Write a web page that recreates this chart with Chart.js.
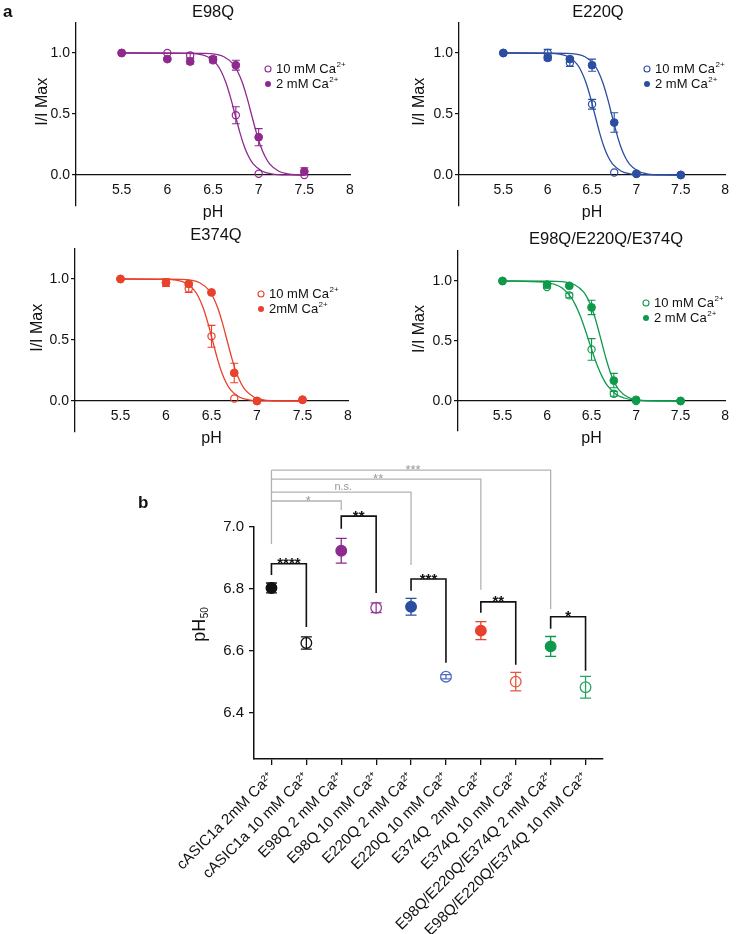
<!DOCTYPE html>
<html><head><meta charset="utf-8">
<script src="https://cdn.jsdelivr.net/npm/chart.js@4.4.1/dist/chart.umd.min.js"></script>
<style>
html,body{margin:0;padding:0;background:#fff;}
#wrap{position:relative;width:736px;height:934px;overflow:hidden;font-family:"Liberation Sans",Arial,sans-serif;color:#111;}
canvas{position:absolute;}
.t{position:absolute;font-size:16.5px;white-space:nowrap;transform:translate(-50%,-50%);}
.lab{position:absolute;font-weight:bold;font-size:17px;}
</style></head><body>
<div id="wrap">
  <canvas id="c1" width="368" height="226" style="left:0;top:0"></canvas>
  <canvas id="c2" width="368" height="226" style="left:368px;top:0"></canvas>
  <canvas id="c3" width="368" height="230" style="left:0;top:226px"></canvas>
  <canvas id="c4" width="368" height="230" style="left:368px;top:226px"></canvas>
  <canvas id="cb" width="736" height="494" style="left:0;top:440px"></canvas>
  <div class="lab" style="left:3px;top:2px">a</div>
  <div class="lab" style="left:138px;top:493px">b</div>
  <div class="t" style="left:213px;top:11px">E98Q</div>
  <div class="t" style="left:598px;top:11px">E220Q</div>
  <div class="t" style="left:216px;top:234px">E374Q</div>
  <div class="t" style="left:606px;top:238px">E98Q/E220Q/E374Q</div>
</div>
<script>
// ---------------- Panel a data ----------------
const phLevels = [5.5, 6, 6.25, 6.5, 6.75, 7, 7.5];
const xTickVals = [5.5, 6, 6.5, 7, 7.5, 8];
const yTickVals = [0, 0.5, 1.0];

const e98q10 = [1.00, 1.00, 0.98, 0.94, 0.49, 0.01, 0.00];
const e98q10Err = [0, 0, 0.02, 0.02, 0.07, 0, 0];
const e98q2 = [1.00, 0.95, 0.93, 0.95, 0.90, 0.31, 0.03];
const e98q2Err = [0, 0.01, 0.02, 0.02, 0.04, 0.07, 0.03];
const e98qFit10X = [5.5, 6.24, 6.34, 6.44, 6.54, 6.59, 6.64, 6.69, 6.74, 6.79, 6.84, 6.89, 6.94, 7.04, 7.14, 7.34, 7.5];
const e98qFit10Y = [1, 0.997, 0.99, 0.969, 0.909, 0.849, 0.76, 0.64, 0.5, 0.36, 0.24, 0.151, 0.091, 0.031, 0.01, 0.001, 0];
const e98qFit2X = [5.5, 6.42, 6.52, 6.62, 6.72, 6.77, 6.82, 6.87, 6.92, 6.97, 7.02, 7.07, 7.12, 7.22, 7.32, 7.42, 7.5];
const e98qFit2Y = [1, 0.997, 0.99, 0.969, 0.909, 0.849, 0.76, 0.64, 0.5, 0.36, 0.24, 0.151, 0.091, 0.031, 0.01, 0.003, 0.001];

const e220q10 = [1.00, 1.00, 0.92, 0.58, 0.02, 0.01, 0.00];
const e220q10Err = [0, 0.03, 0.03, 0.04, 0, 0, 0];
const e220q2 = [1.00, 0.96, 0.95, 0.90, 0.43, 0.01, 0.00];
const e220q2Err = [0, 0.02, 0.01, 0.05, 0.08, 0, 0];
const e220qFit10X = [5.5, 6.03, 6.13, 6.23, 6.33, 6.38, 6.43, 6.48, 6.53, 6.58, 6.63, 6.68, 6.73, 6.83, 6.93, 7.13, 7.5];
const e220qFit10Y = [1, 0.997, 0.99, 0.969, 0.909, 0.849, 0.76, 0.64, 0.5, 0.36, 0.24, 0.151, 0.091, 0.031, 0.01, 0.001, 0];
const e220qFit2X = [5.5, 6.22, 6.32, 6.42, 6.52, 6.57, 6.62, 6.67, 6.72, 6.77, 6.82, 6.87, 6.92, 7.02, 7.12, 7.32, 7.5];
const e220qFit2Y = [1, 0.997, 0.99, 0.969, 0.909, 0.849, 0.76, 0.64, 0.5, 0.36, 0.24, 0.151, 0.091, 0.031, 0.01, 0.001, 0];

const e374q10 = [1.00, 0.97, 0.92, 0.53, 0.02, 0.00, 0.01];
const e374q10Err = [0, 0.03, 0.03, 0.09, 0, 0, 0];
const e374q2 = [1.00, 0.97, 0.96, 0.89, 0.23, 0.00, 0.01];
const e374q2Err = [0, 0.03, 0.01, 0.01, 0.08, 0, 0];
const e374qFit10X = [5.5, 6.01, 6.11, 6.21, 6.31, 6.36, 6.41, 6.46, 6.51, 6.56, 6.61, 6.66, 6.71, 6.81, 6.91, 7.11, 7.5];
const e374qFit10Y = [1, 0.997, 0.99, 0.969, 0.909, 0.849, 0.76, 0.64, 0.5, 0.36, 0.24, 0.151, 0.091, 0.031, 0.01, 0.001, 0];
const e374qFit2X = [5.5, 6.17, 6.27, 6.37, 6.47, 6.52, 6.57, 6.62, 6.67, 6.72, 6.77, 6.82, 6.87, 6.97, 7.07, 7.27, 7.5];
const e374qFit2Y = [1, 0.997, 0.99, 0.969, 0.909, 0.849, 0.76, 0.64, 0.5, 0.36, 0.24, 0.151, 0.091, 0.031, 0.01, 0.001, 0];

const tripleQ10 = [1.00, 0.95, 0.88, 0.43, 0.06, 0.00, 0.00];
const tripleQ10Err = [0, 0.01, 0.02, 0.09, 0.02, 0, 0];
const tripleQ2 = [1.00, 0.97, 0.96, 0.78, 0.17, 0.01, 0.00];
const tripleQ2Err = [0, 0.01, 0.01, 0.06, 0.06, 0, 0];
const tripleFit10X = [5.5, 5.97, 6.07, 6.17, 6.27, 6.32, 6.37, 6.42, 6.47, 6.52, 6.57, 6.62, 6.67, 6.77, 6.87, 6.97, 7.5];
const tripleFit10Y = [1, 0.99, 0.975, 0.941, 0.863, 0.799, 0.715, 0.613, 0.5, 0.387, 0.285, 0.201, 0.137, 0.059, 0.025, 0.01, 0];
const tripleFit2X = [5.5, 6.11, 6.21, 6.31, 6.41, 6.46, 6.51, 6.56, 6.61, 6.66, 6.71, 6.76, 6.81, 6.91, 7.01, 7.21, 7.5];
const tripleFit2Y = [1, 0.997, 0.99, 0.969, 0.909, 0.849, 0.76, 0.64, 0.5, 0.36, 0.24, 0.151, 0.091, 0.031, 0.01, 0.001, 0];

// ---------------- Panel b data ----------------
const bLabels = ['cASIC1a 2mM Ca²⁺', 'cASIC1a 10 mM Ca²⁺', 'E98Q 2 mM Ca²⁺', 'E98Q 10 mM Ca²⁺',
  'E220Q 2 mM Ca²⁺', 'E220Q 10 mM Ca²⁺', 'E374Q  2mM Ca²⁺', 'E374Q 10 mM Ca²⁺',
  'E98Q/E220Q/E374Q 2 mM Ca²⁺', 'E98Q/E220Q/E374Q 10 mM Ca²⁺'];
const ph50 = [6.803, 6.625, 6.923, 6.739, 6.742, 6.516, 6.665, 6.500, 6.614, 6.482];
const ph50Err = [0.016, 0.02, 0.04, 0.016, 0.027, 0.007, 0.029, 0.03, 0.032, 0.035];
const ph50Filled = [true, false, true, false, true, false, true, false, true, false];
const bYTicks = [6.4, 6.6, 6.8, 7.0];
// comparisons vs cASIC1a 2mM (grey)
const cmpTargets = [2, 4, 6, 8];
const cmpLevels = [7.084, 7.113, 7.155, 7.184];
const cmpLegEnds = [7.055, 6.877, 6.797, 6.735];
const cmpLabels = ['*', 'n.s.', '**', '***'];
const cmpStemBottom = 6.945;
// pairwise 2 mM vs 10 mM (black)
const pairLeft = [0, 2, 4, 6, 8];
const pairTop = [6.881, 7.035, 6.832, 6.758, 6.710];
const pairLeftEnd = [6.845, 6.994, 6.794, 6.723, 6.671];
const pairRightEnd = [6.677, 6.787, 6.561, 6.555, 6.535];
const pairLabels = ['****', '**', '***', '**', '*'];

// ---------------- styling ----------------
const F = '"Liberation Sans", Arial, sans-serif';
const INK = '#111111';
const PURPLE = '#8e2a8e', BLUE = '#2c4ea0', RED = '#e8412c', GREEN = '#0f9a4b';
const bColors = [INK, INK, PURPLE, '#9a3c9a', BLUE, '#4c6cc6', RED, '#e6553f', GREEN, '#2aa366'];
Chart.defaults.font.family = F;
Chart.defaults.color = INK;

// ---------------- plugins ----------------
const errBars = {
  id: 'errBars',
  beforeDatasetsDraw(chart, args, o) {
    if (!o || !o.sets) return;
    const ctx = chart.ctx, ys = chart.scales.y;
    ctx.save();
    o.sets.forEach(s => {
      const meta = chart.getDatasetMeta(s.ds);
      const data = chart.data.datasets[s.ds].data;
      meta.data.forEach((pt, i) => {
        const e = s.err[i];
        if (!e) return;
        const v = typeof data[i] === 'object' ? data[i].y : data[i];
        const yt = ys.getPixelForValue(v + e), yb = ys.getPixelForValue(v - e);
        ctx.strokeStyle = Array.isArray(s.color) ? s.color[i] : s.color;
        ctx.lineWidth = o.width;
        ctx.beginPath();
        ctx.moveTo(pt.x, yt); ctx.lineTo(pt.x, yb);
        ctx.moveTo(pt.x - o.cap, yt); ctx.lineTo(pt.x + o.cap, yt);
        ctx.moveTo(pt.x - o.cap, yb); ctx.lineTo(pt.x + o.cap, yb);
        ctx.stroke();
      });
    });
    ctx.restore();
  }
};

const miniLegend = {
  id: 'miniLegend',
  afterDraw(chart, args, o) {
    if (!o || !o.items) return;
    const ctx = chart.ctx, ca = chart.chartArea;
    ctx.save();
    o.items.forEach((it, i) => {
      const mx = ca.left + o.dx, my = ca.top + o.dy + i * o.gap;
      ctx.beginPath(); ctx.arc(mx, my, o.r, 0, Math.PI * 2);
      ctx.lineWidth = 1.1; ctx.strokeStyle = o.color; ctx.fillStyle = o.color;
      if (it.filled) ctx.fill(); else ctx.stroke();
      ctx.fillStyle = INK; ctx.textBaseline = 'middle'; ctx.textAlign = 'left';
      ctx.font = o.size + 'px ' + F;
      const tx = mx + o.textGap;
      ctx.fillText(it.text, tx, my + 0.5);
      const w = ctx.measureText(it.text).width;
      ctx.font = o.supSize + 'px ' + F;
      ctx.fillText(it.sup, tx + w + 0.5, my - 4);
    });
    ctx.restore();
  }
};

const yTitle = {
  id: 'yTitle',
  afterDraw(chart, args, o) {
    if (!o || !o.text) return;
    const ctx = chart.ctx, ys = chart.scales.y;
    const x = chart.chartArea.left - o.dx, y = ys.getPixelForValue(o.value);
    ctx.save();
    ctx.translate(x, y); ctx.rotate(-Math.PI / 2);
    ctx.fillStyle = INK; ctx.textBaseline = 'middle'; ctx.textAlign = 'left';
    ctx.font = o.size + 'px ' + F;
    const w1 = ctx.measureText(o.text).width;
    let w2 = 0;
    if (o.sub) { ctx.font = o.subSize + 'px ' + F; w2 = ctx.measureText(o.sub).width; }
    const x0 = -(w1 + w2) / 2;
    ctx.font = o.size + 'px ' + F;
    ctx.fillText(o.text, x0, 0);
    if (o.sub) { ctx.font = o.subSize + 'px ' + F; ctx.fillText(o.sub, x0 + w1 + 0.5, o.subDrop); }
    ctx.restore();
  }
};

const brackets = {
  id: 'brackets',
  afterDatasetsDraw(chart) {
    const ctx = chart.ctx, xs = chart.scales.x, ys = chart.scales.y;
    const X = i => xs.getPixelForValue(i), Y = v => ys.getPixelForValue(v);
    ctx.save();
    ctx.lineCap = 'butt';
    // grey comparisons
    ctx.strokeStyle = '#b3b3b3'; ctx.lineWidth = 1.3;
    const x0 = X(0);
    ctx.beginPath();
    ctx.moveTo(x0, Y(cmpStemBottom)); ctx.lineTo(x0, Y(Math.max(...cmpLevels)));
    cmpTargets.forEach((t, i) => {
      ctx.moveTo(x0, Y(cmpLevels[i])); ctx.lineTo(X(t), Y(cmpLevels[i])); ctx.lineTo(X(t), Y(cmpLegEnds[i]));
    });
    ctx.stroke();
    ctx.fillStyle = '#9a9a9a'; ctx.font = '11px ' + F; ctx.textAlign = 'center'; ctx.textBaseline = 'bottom';
    cmpTargets.forEach((t, i) => {
      const star = cmpLabels[i].indexOf('*') >= 0;
      ctx.font = (star ? '13px ' : '11px ') + F;
      ctx.fillText(cmpLabels[i], (x0 + X(t)) / 2 + 2, Y(cmpLevels[i]) + (star ? 7 : 0));
    });
    // black pairs
    ctx.strokeStyle = INK; ctx.lineWidth = 1.6;
    ctx.beginPath();
    pairLeft.forEach((l, i) => {
      ctx.moveTo(X(l), Y(pairLeftEnd[i])); ctx.lineTo(X(l), Y(pairTop[i]));
      ctx.lineTo(X(l + 1), Y(pairTop[i])); ctx.lineTo(X(l + 1), Y(pairRightEnd[i]));
    });
    ctx.stroke();
    ctx.fillStyle = INK; ctx.font = 'bold 15px ' + F;
    pairLeft.forEach((l, i) => {
      ctx.fillText(pairLabels[i], (X(l) + X(l + 1)) / 2, Y(pairTop[i]) + 8);
    });
    ctx.restore();
  }
};

// ---------------- panel a factory ----------------
function doseChart(id, c) {
  const pts = arr => phLevels.map((x, i) => ({ x, y: arr[i] }));
  const fit = (xs, ys) => xs.map((x, i) => ({ x, y: ys[i] }));
  return new Chart(document.getElementById(id), {
    type: 'scatter',
    data: {
      datasets: [
        { data: fit(c.fit10x, c.fit10y), showLine: true, borderColor: c.color, borderWidth: 1.3, pointRadius: 0, cubicInterpolationMode: 'monotone', order: 4 },
        { data: fit(c.fit2x, c.fit2y), showLine: true, borderColor: c.color, borderWidth: 1.3, pointRadius: 0, cubicInterpolationMode: 'monotone', order: 3 },
        { data: pts(c.y10), pointRadius: 3.6, pointBorderWidth: 1.2, pointBackgroundColor: 'rgba(255,255,255,0)', pointBorderColor: c.color, order: 2 },
        { data: pts(c.y2), pointRadius: 3.9, pointBorderWidth: 1, pointBackgroundColor: c.color, pointBorderColor: c.color, order: 1 }
      ]
    },
    options: {
      responsive: false, animation: false, events: [],
      layout: { padding: { left: 0, top: c.padTop, right: c.padRight, bottom: c.padBottom } },
      plugins: {
        legend: { display: false }, tooltip: { enabled: false },
        errBars: { width: 1.1, cap: 4, sets: [{ ds: 2, err: c.e10, color: c.color }, { ds: 3, err: c.e2, color: c.color }] },
        miniLegend: { color: c.color, dx: c.legDx, dy: c.legDy, gap: 15, r: 3, textGap: 8, size: 13, supSize: 8,
          items: [{ filled: false, text: '10 mM Ca', sup: '2+' }, { filled: true, text: c.label2, sup: '2+' }] },
        yTitle: { text: 'I/I Max', value: 0.6, dx: c.titleDx, size: 16 }
      },
      scales: {
        x: {
          type: 'linear', min: 5, max: 8, position: { y: 0 },
          afterBuildTicks: s => { s.ticks = xTickVals.map(v => ({ value: v })); },
          ticks: { font: { size: 14 }, color: INK, padding: 7, autoSkip: false, maxRotation: 0, callback: v => String(v) },
          grid: { display: false, drawTicks: false },
          border: { display: true, color: INK, width: 1.3 },
          title: { display: true, text: 'pH', font: { size: 16 }, color: INK, padding: { top: -3, bottom: 0 } }
        },
        y: {
          type: 'linear', min: -0.25, max: 1.25, position: 'left',
          afterBuildTicks: s => { s.ticks = yTickVals.map(v => ({ value: v })); },
          afterFit: s => { s.width = c.axisW; },
          ticks: { font: { size: 14 }, color: INK, padding: 2, callback: v => v.toFixed(1) },
          grid: { display: true, drawOnChartArea: false, drawTicks: true, tickLength: 4, color: INK, lineWidth: 1.2 },
          border: { display: true, color: INK, width: 1.3 }
        }
      }
    },
    plugins: [errBars, miniLegend, yTitle]
  });
}

doseChart('c1', { color: PURPLE, y10: e98q10, e10: e98q10Err, y2: e98q2, e2: e98q2Err,
  fit10x: e98qFit10X, fit10y: e98qFit10Y, fit2x: e98qFit2X, fit2y: e98qFit2Y, label2: '2 mM Ca',
  axisW: 76, padTop: 22.5, padRight: 18, padBottom: 20.5, legDx: 192, legDy: 46.5, titleDx: 33 });
doseChart('c2', { color: BLUE, y10: e220q10, e10: e220q10Err, y2: e220q2, e2: e220q2Err,
  fit10x: e220qFit10X, fit10y: e220qFit10Y, fit2x: e220qFit2X, fit2y: e220qFit2Y, label2: '2 mM Ca',
  axisW: 91, padTop: 22.5, padRight: 4, padBottom: 20.5, legDx: 188, legDy: 46.5, titleDx: 39 });
doseChart('c3', { color: RED, y10: e374q10, e10: e374q10Err, y2: e374q2, e2: e374q2Err,
  fit10x: e374qFit10X, fit10y: e374qFit10Y, fit2x: e374qFit2X, fit2y: e374qFit2Y, label2: '2mM Ca',
  axisW: 75, padTop: 22.5, padRight: 20, padBottom: 24.5, legDx: 186, legDy: 45.5, titleDx: 37 });
doseChart('c4', { color: GREEN, y10: tripleQ10, e10: tripleQ10Err, y2: tripleQ2, e2: tripleQ2Err,
  fit10x: tripleFit10X, fit10y: tripleFit10Y, fit2x: tripleFit2X, fit2y: tripleFit2Y, label2: '2 mM Ca',
  axisW: 90, padTop: 25, padRight: 9, padBottom: 25, legDx: 188, legDy: 52, titleDx: 38 });

// ---------------- panel b ----------------
new Chart(document.getElementById('cb'), {
  type: 'line',
  data: {
    labels: bLabels,
    datasets: [{
      data: ph50, showLine: false, pointRadius: 5.3, pointBorderWidth: 1.3,
      pointBackgroundColor: ph50Filled.map((f, i) => f ? bColors[i] : 'rgba(255,255,255,0)'),
      pointBorderColor: bColors
    }]
  },
  options: {
    responsive: false, animation: false, events: [],
    layout: { padding: { left: 0, top: 87, right: 133, bottom: 0 } },
    plugins: {
      legend: { display: false }, tooltip: { enabled: false },
      errBars: { width: 1.3, cap: 5.5, sets: [{ ds: 0, err: ph50Err, color: bColors }] },
      yTitle: { text: 'pH', sub: '50', value: 6.684, dx: 54, size: 18, subSize: 10, subDrop: 5 }
    },
    scales: {
      x: {
        type: 'category', offset: true,
        afterFit: s => { s.height = 175; },
        ticks: { font: { size: 15 }, color: INK, padding: 4, autoSkip: false, minRotation: 45, maxRotation: 45 },
        grid: { display: true, drawOnChartArea: false, drawTicks: true, tickLength: 6, color: INK, lineWidth: 1.3, offset: false },
        border: { display: true, color: INK, width: 1.5 }
      },
      y: {
        type: 'linear', min: 6.25, max: 7.0,
        afterBuildTicks: s => { s.ticks = bYTicks.map(v => ({ value: v })); },
        afterFit: s => { s.width = 254; },
        ticks: { font: { size: 15 }, color: INK, padding: 5, callback: v => v.toFixed(1) },
        grid: { display: true, drawOnChartArea: false, drawTicks: true, tickLength: 5, color: INK, lineWidth: 1.3 },
        border: { display: true, color: INK, width: 1.5 }
      }
    }
  },
  plugins: [errBars, brackets, yTitle]
});
</script>
</body></html>
